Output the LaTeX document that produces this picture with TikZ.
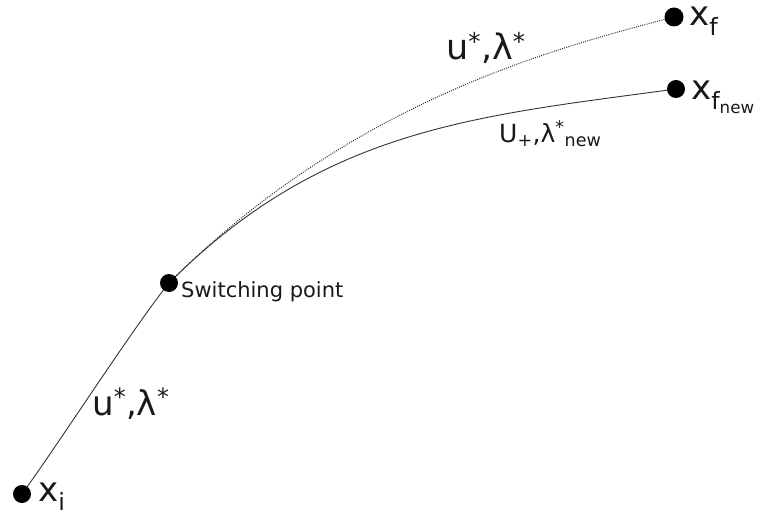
\documentclass[tikz,border=0pt]{standalone}
\usepackage{fontspec}
\setmainfont{DejaVu Sans}
\begin{document}
\begin{tikzpicture}[x=1pt,y=1pt,
  dot/.style={circle,fill=black,inner sep=0pt,minimum size=18pt},
  lbl/.style={anchor=base west,inner sep=0pt,text=black!90},
  big/.style={font=\fontsize{34}{34}\selectfont},
  traj/.style={line width=0.9pt,draw=black!80},
  dotted traj/.style={line width=1pt,draw=black!80,dash pattern=on 1pt off 1.2pt}]
\useasboundingbox (0,0) rectangle (765,517);
% curves
\coordinate (pxi) at (22,23);
\coordinate (psw) at (169,234);
\coordinate (pfn) at (676,428);
\coordinate (pf) at (674,500);
\draw[traj] (pxi) .. controls (55,68) and (135,192) .. (psw);
\draw[traj] (psw) .. controls (325,390) and (478,401) .. (pfn);
\draw[dotted traj] (psw) .. controls (353,418) and (560,470) .. (pf);
% dots
\node[dot] (xi) at (pxi) {};
\node[dot] (sw) at (psw) {};
\node[dot] (xfn) at (pfn) {};
\node[dot,minimum size=19pt] (xf) at (pf) {};
% labels
\node[lbl,big] (lxi) at (38,16) {x\textsubscript{i}};
\node[lbl,big] (lxf) at (689,491) {x\textsubscript{f}};
\node[lbl,big] (lxfn) at (691,417) {x\textsubscript{f\textsubscript{new}}};
\node[lbl,font=\fontsize{21}{21}\selectfont] (lsw) at (181,219) {Switching point};
\node[lbl,font=\fontsize{35}{35}\selectfont] (lu1) at (446,457) {u\textsuperscript{*},λ\textsuperscript{*}};
\node[lbl,font=\fontsize{34}{34}\selectfont] (lu2) at (92,102) {u\textsuperscript{*},λ\textsuperscript{*}};
\node[lbl,font=\fontsize{25}{25}\selectfont] (lU) at (499,374) {U\textsubscript{+},λ\textsuperscript{*}\textsubscript{new}};
\end{tikzpicture}
\end{document}
